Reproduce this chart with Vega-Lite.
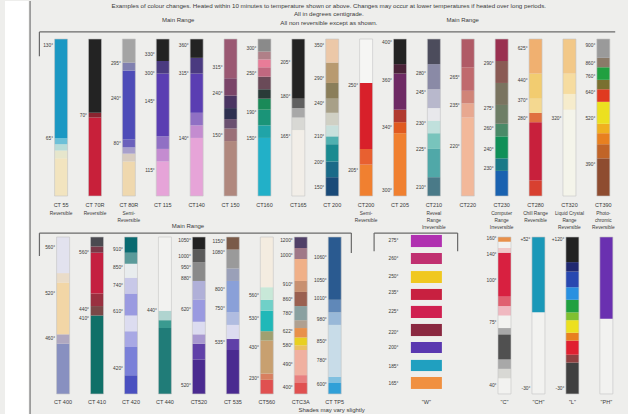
{
"$schema": "https://vega.github.io/schema/vega-lite/v6.json",
"background": "#eeeeec",
"padding": 0,
"spacing": 0,
"bounds": "flush",
"config": {"view": {"stroke": null}, "text": {"font": "Liberation Sans", "color": "#3a3a3a"}},
"resolve": {"scale": {"x": "independent", "y": "independent", "color": "independent"}},
"datasets": {
"topseg": [
{"c":1,"f":0,"t":0.24,"s":"cream"},{"c":1,"f":0.24,"t":0.29,"s":"pale cream"},{"c":1,"f":0.29,"t":0.33,"s":"pale aqua"},{"c":1,"f":0.33,"t":0.37,"s":"light teal"},{"c":1,"f":0.37,"t":1,"s":"teal"},
{"c":2,"f":0,"t":0.5,"s":"red"},{"c":2,"f":0.5,"t":0.53,"s":"dark red"},{"c":2,"f":0.53,"t":1,"s":"black"},
{"c":3,"f":0,"t":0.22,"s":"sand"},{"c":3,"f":0.22,"t":0.27,"s":"pale lilac"},{"c":3,"f":0.27,"t":0.31,"s":"lavender"},{"c":3,"f":0.31,"t":0.36,"s":"iris"},{"c":3,"f":0.36,"t":0.8,"s":"blue violet"},{"c":3,"f":0.8,"t":0.85,"s":"grey lilac"},{"c":3,"f":0.85,"t":1,"s":"grey"},
{"c":4,"f":0,"t":0.22,"s":"pink"},{"c":4,"f":0.22,"t":0.3,"s":"orchid"},{"c":4,"f":0.3,"t":0.38,"s":"amethyst"},{"c":4,"f":0.38,"t":0.78,"s":"purple"},{"c":4,"f":0.78,"t":0.86,"s":"dusk"},{"c":4,"f":0.86,"t":1,"s":"black"},
{"c":5,"f":0,"t":0.37,"s":"pink"},{"c":5,"f":0.37,"t":0.45,"s":"orchid"},{"c":5,"f":0.45,"t":0.53,"s":"amethyst"},{"c":5,"f":0.53,"t":0.78,"s":"purple"},{"c":5,"f":0.78,"t":0.88,"s":"dusk"},{"c":5,"f":0.88,"t":1,"s":"black"},
{"c":6,"f":0,"t":0.35,"s":"taupe"},{"c":6,"f":0.35,"t":0.43,"s":"rosy taupe"},{"c":6,"f":0.43,"t":0.49,"s":"slate plum"},{"c":6,"f":0.49,"t":0.56,"s":"navy"},{"c":6,"f":0.56,"t":0.64,"s":"dark plum"},{"c":6,"f":0.64,"t":0.75,"s":"plum mauve"},{"c":6,"f":0.75,"t":1,"s":"mauve"},
{"c":7,"f":0,"t":0.37,"s":"cyan"},{"c":7,"f":0.37,"t":0.45,"s":"sea teal"},{"c":7,"f":0.45,"t":0.55,"s":"jade"},{"c":7,"f":0.55,"t":0.62,"s":"green"},{"c":7,"f":0.62,"t":0.68,"s":"dark slate"},{"c":7,"f":0.68,"t":0.76,"s":"dusky rose"},{"c":7,"f":0.76,"t":0.82,"s":"rose pink"},{"c":7,"f":0.82,"t":0.87,"s":"coral pink"},{"c":7,"f":0.87,"t":0.92,"s":"grey rose"},{"c":7,"f":0.92,"t":1,"s":"mid grey"},
{"c":8,"f":0,"t":0.42,"s":"off white"},{"c":8,"f":0.42,"t":0.5,"s":"light grey"},{"c":8,"f":0.5,"t":0.56,"s":"silver"},{"c":8,"f":0.56,"t":0.62,"s":"dim grey"},{"c":8,"f":0.62,"t":1,"s":"black"},
{"c":9,"f":0,"t":0.12,"s":"deep blue teal"},{"c":9,"f":0.12,"t":0.22,"s":"blue teal"},{"c":9,"f":0.22,"t":0.33,"s":"dark teal"},{"c":9,"f":0.33,"t":0.38,"s":"aqua"},{"c":9,"f":0.38,"t":0.45,"s":"pale mint"},{"c":9,"f":0.45,"t":0.53,"s":"pale stone"},{"c":9,"f":0.53,"t":0.62,"s":"stone"},{"c":9,"f":0.62,"t":0.72,"s":"olive"},{"c":9,"f":0.72,"t":0.85,"s":"tan"},{"c":9,"f":0.85,"t":1,"s":"peach"},
{"c":10,"f":0,"t":0.2,"s":"orange"},{"c":10,"f":0.2,"t":0.3,"s":"vermilion"},{"c":10,"f":0.3,"t":0.72,"s":"scarlet"},{"c":10,"f":0.72,"t":1,"s":"white"},
{"c":11,"f":0,"t":0.4,"s":"orange"},{"c":11,"f":0.4,"t":0.47,"s":"flame"},{"c":11,"f":0.47,"t":0.55,"s":"rust"},{"c":11,"f":0.55,"t":0.78,"s":"plum"},{"c":11,"f":0.78,"t":0.84,"s":"aubergine"},{"c":11,"f":0.84,"t":1,"s":"black"},
{"c":12,"f":0,"t":0.12,"s":"slate teal"},{"c":12,"f":0.12,"t":0.3,"s":"teal green"},{"c":12,"f":0.3,"t":0.4,"s":"light sea"},{"c":12,"f":0.4,"t":0.48,"s":"mist"},{"c":12,"f":0.48,"t":0.56,"s":"pearl"},{"c":12,"f":0.56,"t":0.68,"s":"pale slate"},{"c":12,"f":0.68,"t":0.84,"s":"slate lilac"},{"c":12,"f":0.84,"t":1,"s":"slate"},
{"c":13,"f":0,"t":0.5,"s":"salmon peach"},{"c":13,"f":0.5,"t":0.59,"s":"salmon"},{"c":13,"f":0.59,"t":0.67,"s":"dusty rose"},{"c":13,"f":0.67,"t":0.82,"s":"rose"},{"c":13,"f":0.82,"t":1,"s":"rose mauve"},
{"c":14,"f":0,"t":0.16,"s":"cobalt"},{"c":14,"f":0.16,"t":0.24,"s":"petrol"},{"c":14,"f":0.24,"t":0.38,"s":"emerald"},{"c":14,"f":0.38,"t":0.46,"s":"sage"},{"c":14,"f":0.46,"t":0.58,"s":"grey olive"},{"c":14,"f":0.58,"t":0.72,"s":"olive brown"},{"c":14,"f":0.72,"t":0.86,"s":"brown mauve"},{"c":14,"f":0.86,"t":1,"s":"wine"},
{"c":15,"f":0,"t":0.1,"s":"red orange"},{"c":15,"f":0.1,"t":0.47,"s":"crimson"},{"c":15,"f":0.47,"t":0.53,"s":"tangerine"},{"c":15,"f":0.53,"t":0.62,"s":"pale yellow"},{"c":15,"f":0.62,"t":0.78,"s":"yellow ochre"},{"c":15,"f":0.78,"t":1,"s":"apricot"},
{"c":16,"f":0,"t":0.55,"s":"ivory"},{"c":16,"f":0.55,"t":0.65,"s":"cream yellow"},{"c":16,"f":0.65,"t":0.78,"s":"light gold"},{"c":16,"f":0.78,"t":1,"s":"pale apricot"},
{"c":17,"f":0,"t":0.24,"s":"brown"},{"c":17,"f":0.24,"t":0.33,"s":"copper"},{"c":17,"f":0.33,"t":0.4,"s":"amber"},{"c":17,"f":0.4,"t":0.46,"s":"gold"},{"c":17,"f":0.46,"t":0.6,"s":"lemon"},{"c":17,"f":0.6,"t":0.68,"s":"signal red"},{"c":17,"f":0.68,"t":0.74,"s":"khaki"},{"c":17,"f":0.74,"t":0.82,"s":"leaf green"},{"c":17,"f":0.82,"t":0.88,"s":"grey brown"},{"c":17,"f":0.88,"t":1,"s":"ash"}
],
"toptemps": [
{"c":1,"f":0.955,"v":"130°"},{"c":1,"f":0.365,"v":"65°"},
{"c":2,"f":0.51,"v":"70°"},
{"c":3,"f":0.84,"v":"295°"},{"c":3,"f":0.62,"v":"240°"},{"c":3,"f":0.33,"v":"80°"},
{"c":4,"f":0.9,"v":"330°"},{"c":4,"f":0.78,"v":"300°"},{"c":4,"f":0.6,"v":"145°"},{"c":4,"f":0.16,"v":"115°"},
{"c":5,"f":0.955,"v":"360°"},{"c":5,"f":0.78,"v":"315°"},{"c":5,"f":0.36,"v":"140°"},
{"c":6,"f":0.815,"v":"315°"},{"c":6,"f":0.65,"v":"240°"},{"c":6,"f":0.38,"v":"150°"},
{"c":7,"f":0.935,"v":"300°"},{"c":7,"f":0.78,"v":"250°"},{"c":7,"f":0.53,"v":"190°"},{"c":7,"f":0.36,"v":"150°"},
{"c":8,"f":0.85,"v":"205°"},{"c":8,"f":0.63,"v":"180°"},{"c":8,"f":0.375,"v":"165°"},
{"c":9,"f":0.955,"v":"350°"},{"c":9,"f":0.745,"v":"290°"},{"c":9,"f":0.585,"v":"240°"},{"c":9,"f":0.375,"v":"210°"},{"c":9,"f":0.21,"v":"200°"},{"c":9,"f":0.05,"v":"150°"},
{"c":10,"f":0.7,"v":"250°"},{"c":10,"f":0.16,"v":"205°"},
{"c":11,"f":0.975,"v":"400°"},{"c":11,"f":0.73,"v":"360°"},{"c":11,"f":0.435,"v":"340°"},{"c":11,"f":0.03,"v":"300°"},
{"c":12,"f":0.78,"v":"280°"},{"c":12,"f":0.655,"v":"245°"},{"c":12,"f":0.46,"v":"230°"},{"c":12,"f":0.29,"v":"225°"},{"c":12,"f":0.05,"v":"210°"},
{"c":13,"f":0.75,"v":"265°"},{"c":13,"f":0.575,"v":"235°"},{"c":13,"f":0.31,"v":"220°"},
{"c":14,"f":0.84,"v":"290°"},{"c":14,"f":0.555,"v":"275°"},{"c":14,"f":0.425,"v":"260°"},{"c":14,"f":0.29,"v":"240°"},{"c":14,"f":0.17,"v":"230°"},
{"c":15,"f":0.935,"v":"625°"},{"c":15,"f":0.73,"v":"440°"},{"c":15,"f":0.605,"v":"370°"},{"c":15,"f":0.49,"v":"280°"},
{"c":16,"f":0.49,"v":"320°"},
{"c":17,"f":0.955,"v":"900°"},{"c":17,"f":0.84,"v":"860°"},{"c":17,"f":0.755,"v":"760°"},{"c":17,"f":0.655,"v":"640°"},{"c":17,"f":0.49,"v":"520°"},{"c":17,"f":0.2,"v":"390°"}
],
"topbars": [
{"c":1,"n":"CT 55","d":"Reversible"},{"c":2,"n":"CT 70R","d":"Reversible"},{"c":3,"n":"CT 80R","d":"Semi-|Reversible"},{"c":4,"n":"CT 115","d":""},{"c":5,"n":"CT140","d":""},{"c":6,"n":"CT 150","d":""},{"c":7,"n":"CT160","d":""},{"c":8,"n":"CT165","d":""},{"c":9,"n":"CT 200","d":""},{"c":10,"n":"CT200","d":"Semi-|Reversible"},{"c":11,"n":"CT 205","d":""},{"c":12,"n":"CT210","d":"Reveal|Range|Irreversible"},{"c":13,"n":"CT220","d":""},{"c":14,"n":"CT230","d":"Computer|Range|Irreversible"},{"c":15,"n":"CT280","d":"Chill Range||Reversible"},{"c":16,"n":"CT320","d":"Liquid Crystal|Range|Reversible"},{"c":17,"n":"CT390","d":"Photo-|chromic|Reversible"}
],
"botseg": [
{"c":1,"f":0,"t":0.32,"s":"periwinkle"},{"c":1,"f":0.32,"t":0.38,"s":"grey lavender"},{"c":1,"f":0.38,"t":0.71,"s":"peach cream"},{"c":1,"f":0.71,"t":0.77,"s":"linen"},{"c":1,"f":0.77,"t":1,"s":"pale lavender"},
{"c":2,"f":0,"t":0.5,"s":"deep teal"},{"c":2,"f":0.5,"t":0.56,"s":"brown red"},{"c":2,"f":0.56,"t":0.64,"s":"maroon red"},{"c":2,"f":0.64,"t":0.9,"s":"crimson"},{"c":2,"f":0.9,"t":0.94,"s":"dark wine"},{"c":2,"f":0.94,"t":1,"s":"charcoal"},
{"c":3,"f":0,"t":0.12,"s":"royal blue"},{"c":3,"f":0.12,"t":0.3,"s":"cornflower"},{"c":3,"f":0.3,"t":0.4,"s":"light periwinkle"},{"c":3,"f":0.4,"t":0.5,"s":"lavender mist"},{"c":3,"f":0.5,"t":0.64,"s":"periwinkle blue"},{"c":3,"f":0.64,"t":0.74,"s":"light lavender"},{"c":3,"f":0.74,"t":0.83,"s":"pearl"},{"c":3,"f":0.83,"t":0.9,"s":"grey teal"},{"c":3,"f":0.9,"t":1,"s":"dark teal"},
{"c":4,"f":0,"t":0.42,"s":"pine teal"},{"c":4,"f":0.42,"t":0.47,"s":"jade teal"},{"c":4,"f":0.47,"t":0.53,"s":"mist"},{"c":4,"f":0.53,"t":1,"s":"snow"},
{"c":5,"f":0,"t":0.22,"s":"indigo"},{"c":5,"f":0.22,"t":0.32,"s":"violet"},{"c":5,"f":0.32,"t":0.38,"s":"lilac"},{"c":5,"f":0.38,"t":0.46,"s":"lavender mist"},{"c":5,"f":0.46,"t":0.6,"s":"periwinkle blue"},{"c":5,"f":0.6,"t":0.72,"s":"lavender grey"},{"c":5,"f":0.72,"t":0.84,"s":"mid grey"},{"c":5,"f":0.84,"t":0.92,"s":"dim grey"},{"c":5,"f":0.92,"t":1,"s":"black"},
{"c":6,"f":0,"t":0.28,"s":"indigo"},{"c":6,"f":0.28,"t":0.35,"s":"violet"},{"c":6,"f":0.35,"t":0.44,"s":"lavender mist"},{"c":6,"f":0.44,"t":0.52,"s":"powder blue"},{"c":6,"f":0.52,"t":0.72,"s":"cornflower blue"},{"c":6,"f":0.72,"t":0.8,"s":"steel grey"},{"c":6,"f":0.8,"t":0.92,"s":"ash"},{"c":6,"f":0.92,"t":1,"s":"umber"},
{"c":7,"f":0,"t":0.09,"s":"coral red"},{"c":7,"f":0.09,"t":0.13,"s":"terracotta"},{"c":7,"f":0.13,"t":0.34,"s":"camel"},{"c":7,"f":0.34,"t":0.4,"s":"olive tan"},{"c":7,"f":0.4,"t":0.53,"s":"turquoise"},{"c":7,"f":0.53,"t":0.6,"s":"aqua mint"},{"c":7,"f":0.6,"t":0.68,"s":"pale green"},{"c":7,"f":0.68,"t":1,"s":"linen white"},
{"c":8,"f":0,"t":0.07,"s":"coral red"},{"c":8,"f":0.07,"t":0.12,"s":"salmon pink"},{"c":8,"f":0.12,"t":0.28,"s":"blush"},{"c":8,"f":0.28,"t":0.31,"s":"mustard"},{"c":8,"f":0.31,"t":0.36,"s":"yellow"},{"c":8,"f":0.36,"t":0.42,"s":"mango"},{"c":8,"f":0.42,"t":0.47,"s":"stone"},{"c":8,"f":0.47,"t":0.56,"s":"grey teal light"},{"c":8,"f":0.56,"t":0.65,"s":"cocoa"},{"c":8,"f":0.65,"t":0.72,"s":"caramel"},{"c":8,"f":0.72,"t":0.86,"s":"apricot peach"},{"c":8,"f":0.86,"t":0.93,"s":"grey mauve"},{"c":8,"f":0.93,"t":1,"s":"dark purple grey"},
{"c":9,"f":0,"t":0.07,"s":"sky blue"},{"c":9,"f":0.07,"t":0.11,"s":"light sky"},{"c":9,"f":0.11,"t":0.44,"s":"pale blue"},{"c":9,"f":0.44,"t":0.52,"s":"soft blue"},{"c":9,"f":0.52,"t":0.6,"s":"denim"},{"c":9,"f":0.6,"t":1,"s":"navy blue"},
{"c":14,"f":0,"t":0.1,"s":"snow"},{"c":14,"f":0.1,"t":0.16,"s":"light grey"},{"c":14,"f":0.16,"t":0.22,"s":"silver"},{"c":14,"f":0.22,"t":0.38,"s":"graphite"},{"c":14,"f":0.38,"t":0.42,"s":"silver"},{"c":14,"f":0.42,"t":0.5,"s":"snow"},{"c":14,"f":0.5,"t":0.56,"s":"blush pink"},{"c":14,"f":0.56,"t":0.62,"s":"rose red"},{"c":14,"f":0.62,"t":0.9,"s":"scarlet"},{"c":14,"f":0.9,"t":0.93,"s":"pale pink"},{"c":14,"f":0.93,"t":0.97,"s":"snow"},{"c":14,"f":0.97,"t":1,"s":"mango"},
{"c":15,"f":0,"t":0.52,"s":"snow"},{"c":15,"f":0.52,"t":1,"s":"teal"},
{"c":16,"f":0,"t":0.2,"s":"soot"},{"c":16,"f":0.2,"t":0.25,"s":"brick"},{"c":16,"f":0.25,"t":0.34,"s":"signal red"},{"c":16,"f":0.34,"t":0.39,"s":"amber"},{"c":16,"f":0.39,"t":0.47,"s":"lemon"},{"c":16,"f":0.47,"t":0.52,"s":"lime"},{"c":16,"f":0.52,"t":0.6,"s":"leaf green"},{"c":16,"f":0.6,"t":0.68,"s":"azure"},{"c":16,"f":0.68,"t":0.78,"s":"blue"},{"c":16,"f":0.78,"t":0.84,"s":"midnight"},{"c":16,"f":0.84,"t":1,"s":"black"},
{"c":17,"f":0,"t":0.48,"s":"snow"},{"c":17,"f":0.48,"t":1,"s":"royal purple"}
],
"wsw": [
{"c":11.7,"f":0.936,"t":1.013,"s":"magenta"},{"c":11.7,"f":0.828,"t":0.898,"s":"raspberry"},{"c":11.7,"f":0.707,"t":0.783,"s":"sunflower"},{"c":11.7,"f":0.599,"t":0.669,"s":"cherry"},{"c":11.7,"f":0.484,"t":0.561,"s":"cerise"},{"c":11.7,"f":0.369,"t":0.446,"s":"maroon"},{"c":11.7,"f":0.261,"t":0.331,"s":"violet blue"},{"c":11.7,"f":0.146,"t":0.217,"s":"cerulean"},{"c":11.7,"f":0.032,"t":0.108,"s":"orange"}
],
"bottemps": [
{"c":1,"f":0.93,"v":"560°"},{"c":1,"f":0.64,"v":"520°"},{"c":1,"f":0.35,"v":"460°"},
{"c":2,"f":0.9,"v":"560°"},{"c":2,"f":0.535,"v":"440°"},{"c":2,"f":0.48,"v":"410°"},
{"c":3,"f":0.92,"v":"910°"},{"c":3,"f":0.8,"v":"850°"},{"c":3,"f":0.69,"v":"740°"},{"c":3,"f":0.52,"v":"610°"},{"c":3,"f":0.16,"v":"420°"},
{"c":4,"f":0.53,"v":"440°"},
{"c":5,"f":0.975,"v":"1050°"},{"c":5,"f":0.87,"v":"1000°"},{"c":5,"f":0.8,"v":"950°"},{"c":5,"f":0.73,"v":"880°"},{"c":5,"f":0.535,"v":"620°"},{"c":5,"f":0.05,"v":"520°"},
{"c":6,"f":0.97,"v":"1150°"},{"c":6,"f":0.9,"v":"1080°"},{"c":6,"f":0.66,"v":"800°"},{"c":6,"f":0.54,"v":"750°"},{"c":6,"f":0.325,"v":"535°"},
{"c":7,"f":0.625,"v":"560°"},{"c":7,"f":0.48,"v":"530°"},{"c":7,"f":0.29,"v":"430°"},{"c":7,"f":0.095,"v":"230°"},
{"c":8,"f":0.975,"v":"1200°"},{"c":8,"f":0.88,"v":"1000°"},{"c":8,"f":0.695,"v":"910°"},{"c":8,"f":0.6,"v":"860°"},{"c":8,"f":0.51,"v":"780°"},{"c":8,"f":0.395,"v":"622°"},{"c":8,"f":0.305,"v":"580°"},{"c":8,"f":0.185,"v":"490°"},{"c":8,"f":0.04,"v":"400°"},
{"c":9,"f":0.865,"v":"1060°"},{"c":9,"f":0.72,"v":"1050°"},{"c":9,"f":0.605,"v":"1010°"},{"c":9,"f":0.47,"v":"980°"},{"c":9,"f":0.33,"v":"850°"},{"c":9,"f":0.21,"v":"780°"},{"c":9,"f":0.06,"v":"600°"},
{"c":14,"f":0.987,"v":"160°"},{"c":14,"f":0.885,"v":"140°"},{"c":14,"f":0.72,"v":"100°"},{"c":14,"f":0.45,"v":"75°"},{"c":14,"f":0.05,"v":"40°"},
{"c":15,"f":0.98,"v":"+52°"},{"c":15,"f":0.03,"v":"-30°"},
{"c":16,"f":0.98,"v":"+120°"},{"c":16,"f":0.03,"v":"-30°"}
],
"wtemps": [
{"c":11.7,"f":0.975,"v":"275°"},{"c":11.7,"f":0.862,"v":"260°"},{"c":11.7,"f":0.745,"v":"250°"},{"c":11.7,"f":0.643,"v":"235°"},{"c":11.7,"f":0.52,"v":"225°"},{"c":11.7,"f":0.39,"v":"220°"},{"c":11.7,"f":0.293,"v":"200°"},{"c":11.7,"f":0.172,"v":"185°"},{"c":11.7,"f":0.064,"v":"165°"}
],
"botbars": [
{"c":1,"n":"CT 400"},{"c":2,"n":"CT 410"},{"c":3,"n":"CT 420"},{"c":4,"n":"CT 440"},{"c":5,"n":"CT520"},{"c":6,"n":"CT 535"},{"c":7,"n":"CT560"},{"c":8,"n":"CTC3A"},{"c":9,"n":"CT TP5"},{"c":11.7,"n":"\"W\""},{"c":14,"n":"\"C\""},{"c":15,"n":"\"CH\""},{"c":16,"n":"\"L\""},{"c":17,"n":"\"PH\""}
]
},
"vconcat": [
{
"width": 628, "height": 228,
"layer": [
{"data": {"values": [{}]}, "mark": {"type": "rect", "color": "#ffffff"},
 "encoding": {"x": {"datum": -0.655, "type": "quantitative", "scale": {"domain": [-0.655, 17.58], "nice": false, "zero": false}, "axis": null}, "x2": {"datum": 0.04},
  "y": {"datum": -0.21, "type": "quantitative", "scale": {"domain": [-0.21, 1.242], "nice": false, "zero": false}, "axis": null}, "y2": {"datum": 1.242}}},
{"data": {"values": [{}]}, "mark": {"type": "rule", "color": "#8c8c8c", "strokeWidth": 1.5}, "encoding": {"x": {"datum": 0.085}, "y": {"datum": -0.21}, "y2": {"datum": 1.242}}},
{"data": {"values": [{}]}, "mark": {"type": "rule", "color": "#6a6a6a", "strokeWidth": 1.2}, "encoding": {"x": {"datum": 0.36}, "x2": {"datum": 17.35}, "y": {"datum": 1.045}}},
{"data": {"values": [{}]}, "mark": {"type": "rule", "color": "#6a6a6a", "strokeWidth": 1.2}, "encoding": {"x": {"datum": 0.36}, "y": {"datum": 1.045}, "y2": {"datum": 0.89}}},
{"data": {"name": "topseg"}, "mark": {"type": "bar", "width": 13},
 "encoding": {"x": {"field": "c", "type": "quantitative"}, "y": {"field": "f", "type": "quantitative"}, "y2": {"field": "t"},
  "color": {"field": "s", "type": "nominal", "legend": null, "scale": {
   "domain": ["cream","pale cream","pale aqua","light teal","teal","red","dark red","black","sand","pale lilac","lavender","iris","blue violet","grey lilac","grey","pink","orchid","amethyst","purple","dusk","taupe","rosy taupe","slate plum","navy","dark plum","plum mauve","mauve","cyan","sea teal","jade","green","dark slate","dusky rose","rose pink","coral pink","grey rose","mid grey","off white","light grey","silver","dim grey","deep blue teal","blue teal","dark teal","aqua","pale mint","pale stone","stone","olive","tan","peach","orange","vermilion","scarlet","white","flame","rust","plum","aubergine","slate teal","teal green","light sea","mist","pearl","pale slate","slate lilac","slate","salmon peach","salmon","dusty rose","rose","rose mauve","cobalt","petrol","emerald","sage","grey olive","olive brown","brown mauve","wine","red orange","crimson","tangerine","pale yellow","yellow ochre","apricot","ivory","cream yellow","light gold","pale apricot","brown","copper","amber","gold","lemon","signal red","khaki","leaf green","grey brown","ash"],
   "range": ["#f2e4bf","#e6e6cc","#b8dcd8","#6cc0d8","#1b98c3","#c8203a","#8a2430","#232323","#efd8ae","#d8ccc0","#a8a0cc","#6a60bc","#4e4cb8","#8080b0","#a4a4a4","#e6a4d8","#c48cd0","#9070c4","#5a3eb2","#4a3a80","#b0887e","#9a7078","#6a5070","#2e3050","#4a3462","#7a4468","#9a5872","#22b0c8","#20a4a8","#1a9478","#1a8a58","#2a3a38","#6a4a58","#c06880","#e87c98","#b08088","#8a8a8a","#f2eee8","#d8d8d4","#a8a8a8","#606060","#1a4a78","#1a6a88","#1a8a90","#50b0b0","#c8e0dc","#d0d0c4","#a8a088","#8a7e5a","#b89a70","#ecc8a8","#f08030","#e86030","#d8202a","#f6f6f4","#e05a20","#b03a30","#6e2a64","#4a2238","#4a7a88","#50a8a8","#78c4bc","#c0e0dc","#e8e8ec","#b8b8cc","#8a8aa6","#4c4c5c","#f2b89a","#e8a890","#d08478","#c06a6e","#b05a66","#1a62b0","#1a7a88","#109058","#4a8a68","#6e7e66","#7a7460","#8a5a54","#9a3050","#d84030","#c8203c","#e07040","#f4d890","#f2cc70","#f0b070","#f4f4ea","#f6eccc","#f6dca0","#f2c888","#8e4c30","#c06428","#e88020","#f0b020","#ece020","#e03a20","#7a7030","#20a040","#8a7a68","#9a9a9a"]}}}},
{"data": {"name": "topbars"}, "mark": {"type": "bar", "width": 13, "fillOpacity": 0, "stroke": "#c4c4c4", "strokeWidth": 0.6},
 "encoding": {"x": {"field": "c", "type": "quantitative"}, "y": {"datum": 0}, "y2": {"datum": 1}}},
{"data": {"name": "toptemps"}, "mark": {"type": "text", "align": "right", "baseline": "middle", "dx": -8, "fontSize": 4.8},
 "encoding": {"x": {"field": "c", "type": "quantitative"}, "y": {"field": "f", "type": "quantitative"}, "text": {"field": "v"}}},
{"data": {"name": "topbars"}, "mark": {"type": "text", "baseline": "middle", "fontSize": 5.5},
 "encoding": {"x": {"field": "c", "type": "quantitative"}, "y": {"datum": -0.057}, "text": {"field": "n"}}},
{"data": {"name": "topbars"}, "mark": {"type": "text", "baseline": "top", "fontSize": 4.8, "lineBreak": "|", "lineHeight": 6.8},
 "encoding": {"x": {"field": "c", "type": "quantitative"}, "y": {"datum": -0.096}, "text": {"field": "d"}}},
{"data": {"values": [{}]}, "mark": {"type": "text", "baseline": "top", "align": "center", "fontSize": 6.2, "lineBreak": "|", "lineHeight": 8.6,
  "text": "Examples of colour changes. Heated within 10 minutes to temperature shown or above. Changes may occur at lower temperatures if heated over long periods.|All in degrees centigrade.|All non reversible except as shown."},
 "encoding": {"x": {"datum": 8.9}, "y": {"datum": 1.232}}},
{"data": {"values": [{}]}, "mark": {"type": "text", "baseline": "middle", "fontSize": 6, "text": "Main Range"}, "encoding": {"x": {"datum": 4.455}, "y": {"datum": 1.12}}},
{"data": {"values": [{}]}, "mark": {"type": "text", "baseline": "middle", "fontSize": 6, "text": "Main Range"}, "encoding": {"x": {"datum": 12.85}, "y": {"datum": 1.12}}},
{"data": {"values": [{}]}, "mark": {"type": "text", "baseline": "middle", "fontSize": 6, "text": "Main Range"}, "encoding": {"x": {"datum": 4.745}, "y": {"datum": -0.191}}}
]
},
{
"width": 628, "height": 186,
"layer": [
{"data": {"values": [{}]}, "mark": {"type": "rect", "color": "#ffffff"},
 "encoding": {"x": {"datum": -0.71, "type": "quantitative", "scale": {"domain": [-0.71, 17.49], "nice": false, "zero": false}, "axis": null}, "x2": {"datum": -0.015},
  "y": {"datum": -0.134, "type": "quantitative", "scale": {"domain": [-0.134, 1.051], "nice": false, "zero": false}, "axis": null}, "y2": {"datum": 1.051}}},
{"data": {"values": [{}]}, "mark": {"type": "rule", "color": "#8c8c8c", "strokeWidth": 1.5}, "encoding": {"x": {"datum": 0.029}, "y": {"datum": -0.134}, "y2": {"datum": 1.051}}},
{"data": {"values": [{}]}, "mark": {"type": "rule", "color": "#6a6a6a", "strokeWidth": 1.2}, "encoding": {"x": {"datum": 0.304}, "x2": {"datum": 9.49}, "y": {"datum": 1.025}}},
{"data": {"values": [{}]}, "mark": {"type": "rule", "color": "#6a6a6a", "strokeWidth": 1.2}, "encoding": {"x": {"datum": 0.304}, "y": {"datum": 1.025}, "y2": {"datum": 0.879}}},
{"data": {"values": [{}]}, "mark": {"type": "rule", "color": "#6a6a6a", "strokeWidth": 1.2}, "encoding": {"x": {"datum": 9.49}, "y": {"datum": 1.025}, "y2": {"datum": 0.898}}},
{"data": {"values": [{}]}, "mark": {"type": "rule", "color": "#6a6a6a", "strokeWidth": 1.2}, "encoding": {"x": {"datum": 10.16}, "x2": {"datum": 12.62}, "y": {"datum": 1.025}}},
{"data": {"values": [{}]}, "mark": {"type": "rule", "color": "#6a6a6a", "strokeWidth": 1.2}, "encoding": {"x": {"datum": 10.16}, "y": {"datum": 1.025}, "y2": {"datum": 0.91}}},
{"data": {"values": [{}]}, "mark": {"type": "rule", "color": "#6a6a6a", "strokeWidth": 1.2}, "encoding": {"x": {"datum": 12.62}, "y": {"datum": 1.025}, "y2": {"datum": 0.91}}},
{"data": {"name": "botseg"}, "mark": {"type": "bar", "width": 13},
 "encoding": {"x": {"field": "c", "type": "quantitative"}, "y": {"field": "f", "type": "quantitative"}, "y2": {"field": "t"},
  "color": {"field": "s", "type": "nominal", "legend": null, "scale": {
   "domain": ["periwinkle","grey lavender","peach cream","linen","pale lavender","deep teal","brown red","maroon red","crimson","dark wine","charcoal","royal blue","cornflower","light periwinkle","lavender mist","periwinkle blue","light lavender","pearl","grey teal","dark teal","pine teal","jade teal","mist","snow","indigo","violet","lilac","lavender grey","mid grey","dim grey","black","powder blue","cornflower blue","steel grey","ash","umber","coral red","terracotta","camel","olive tan","turquoise","aqua mint","pale green","linen white","salmon pink","blush","mustard","yellow","mango","stone","grey teal light","cocoa","caramel","apricot peach","grey mauve","dark purple grey","sky blue","light sky","pale blue","soft blue","denim","navy blue","light grey","silver","graphite","blush pink","rose red","scarlet","pale pink","teal","soot","brick","signal red","amber","lemon","lime","leaf green","azure","blue","midnight","royal purple","magenta","raspberry","sunflower","cherry","cerise","maroon","violet blue","cerulean","orange"],
   "range": ["#8890c0","#b0a8c0","#f2d6a6","#eadcc8","#e2e2ee","#107068","#7a4848","#9a3040","#c42040","#7a3848","#4a4a50","#4a50c0","#7a80d8","#a8a8e4","#dcdcf0","#9a9ae0","#c8c8e8","#e8ecee","#5a9a9a","#0a6a70","#207c78","#3a9a90","#b0d4d0","#f2f2f0","#4a2a90","#6040a8","#a898d0","#b0b0d8","#8a8a8a","#5a5a5a","#222222","#b0bce0","#8aa0d8","#9aa0b8","#9a9a9a","#7a5a48","#e05050","#d88060","#c8a070","#a0a070","#20b8b8","#70d0c8","#c8e8d8","#f4ece0","#e88080","#f0b0a0","#ecc060","#e8d020","#e8904a","#b0a090","#8aa0a0","#9a6050","#c89070","#f0b088","#a07888","#504068","#30a0d8","#80c0e0","#c8dce8","#98b8d8","#6088b8","#2a5a90","#d8d8d4","#a8a8a8","#505050","#f0b8c0","#e06070","#d82040","#f0c8c8","#1a98b8","#404040","#904040","#e02030","#e88020","#ece020","#80c030","#20a040","#2890e0","#2848b0","#202870","#6a30b0","#b030b0","#c03070","#f0c820","#c82040","#d02050","#8a2840","#5a38b0","#20a0c0","#f09040"]}}}},
{"data": {"name": "wsw"}, "mark": {"type": "bar", "width": 31},
 "encoding": {"x": {"field": "c", "type": "quantitative"}, "y": {"field": "f", "type": "quantitative"}, "y2": {"field": "t"}, "color": {"field": "s", "type": "nominal", "legend": null}}},
{"data": {"name": "botbars"}, "transform": [{"filter": "datum.n != '\"W\"'"}], "mark": {"type": "bar", "width": 13, "fillOpacity": 0, "stroke": "#c4c4c4", "strokeWidth": 0.6},
 "encoding": {"x": {"field": "c", "type": "quantitative"}, "y": {"datum": 0}, "y2": {"datum": 1}}},
{"data": {"name": "bottemps"}, "mark": {"type": "text", "align": "right", "baseline": "middle", "dx": -8, "fontSize": 4.8},
 "encoding": {"x": {"field": "c", "type": "quantitative"}, "y": {"field": "f", "type": "quantitative"}, "text": {"field": "v"}}},
{"data": {"name": "wtemps"}, "mark": {"type": "text", "align": "right", "baseline": "middle", "dx": -28, "fontSize": 4.8},
 "encoding": {"x": {"field": "c", "type": "quantitative"}, "y": {"field": "f", "type": "quantitative"}, "text": {"field": "v"}}},
{"data": {"name": "botbars"}, "mark": {"type": "text", "baseline": "middle", "fontSize": 5.5},
 "encoding": {"x": {"field": "c", "type": "quantitative"}, "y": {"datum": -0.051}, "text": {"field": "n"}}},
{"data": {"values": [{}]}, "mark": {"type": "text", "baseline": "middle", "fontSize": 6, "text": "Shades may vary slightly"}, "encoding": {"x": {"datum": 8.91}, "y": {"datum": -0.105}}}
]
}
]
}
